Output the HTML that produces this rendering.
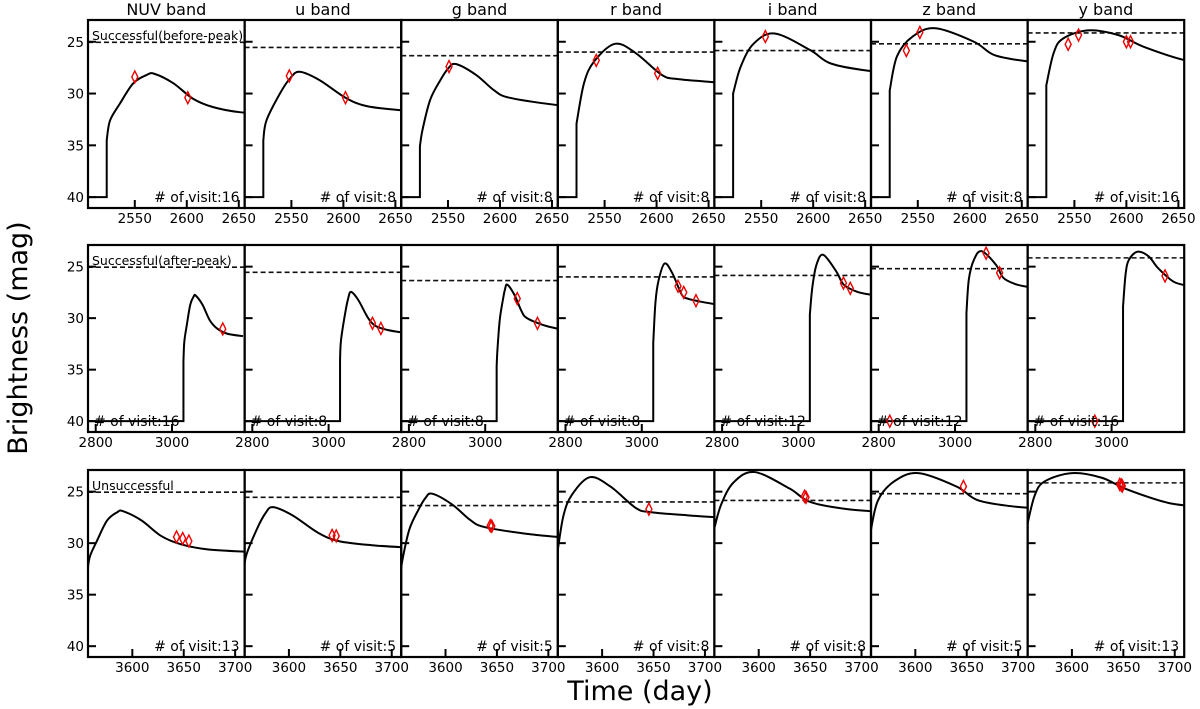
<!DOCTYPE html>
<html>
<head>
<meta charset="utf-8">
<style>
  html,body{margin:0;padding:0;background:#fff;}
  svg{display:block;font-family:"DejaVu Sans","Liberation Sans",sans-serif;}
</style>
</head>
<body>
<svg id="chart" width="1200" height="709" viewBox="0 0 1200 709" xmlns="http://www.w3.org/2000/svg">
  <text x="640" y="700" font-size="27" text-anchor="middle">Time (day)</text>
  <text transform="translate(27,338) rotate(-90)" font-size="27" text-anchor="middle">Brightness (mag)</text>
</svg>
<script>
// ---- data ----
const bands = ["NUV", "u", "g", "r", "i", "z", "y"];
const rowLabels = ["Successful(before-peak)", "Successful(after-peak)", "Unsuccessful"];
const limitMag = [25.05, 25.55, 26.35, 26.0, 25.85, 25.2, 24.15];
const explosionDay = [2523, 3030, 3556];
const xDomains = [[2505, 2655.6], [2779.8, 3190.3], [3556.9, 3709.2]];
const xTicks = [[2550, 2600, 2650], [2800, 3000], [3600, 3650, 3700]];
const yTicks = [25, 30, 35, 40];
const yDomain = [22.9, 41.05];
const faintMag = 40;
// template light curves: days since explosion, mag below peak
const tmplT = [
  [0, 3.2, 12.8, 25.6, 38.5, 46, 64, 83, 102, 128, 170],
  [0, 3, 16, 26, 35, 54, 79, 99, 131, 170],
  [0, 2.5, 9.9, 19.7, 27, 34.5, 54, 71.5, 86, 131, 170],
  [0, 7.2, 17, 37, 57, 82, 97, 132, 170],
  [0, 7.3, 19.6, 40, 74, 94, 130, 170],
  [0, 7, 22, 44, 81, 101, 133, 170],
  [0, 7, 16, 40, 69, 94, 134, 170]
];
const tmplDelta = [
  [6.4, 4.5, 2.85, 0.9, 0.1, 0, 0.9, 2.4, 3.2, 3.7, 3.95],
  [6.6, 4.7, 2.1, 0.6, 0, 0.8, 2.5, 3.3, 3.7, 3.95],
  [7.95, 6.35, 3.45, 1.55, 0.45, 0, 1.05, 2.55, 3.25, 3.95, 4.3],
  [7.7, 3.8, 1.7, 0, 0.9, 3.0, 3.4, 3.7, 3.95],
  [5.8, 3.2, 1.0, 0, 1.6, 2.9, 3.6, 3.9],
  [6.0, 2.7, 0.8, 0, 1.3, 2.6, 3.2, 3.5],
  [5.3, 2.2, 0.8, 0, 0.45, 1.6, 2.9, 3.3]
];
const peakMag = [
  [28.1, 27.9, 27.15, 25.2, 24.2, 23.7, 23.9],
  [27.8, 27.45, 26.75, 24.7, 23.85, 23.5, 23.55],
  [26.9, 26.5, 25.2, 23.6, 23.1, 23.2, 23.2]
];
const peakDay = [
  [2569, 2558, 2557.5, 2560, 2563, 2567, 2563],
  [3062, 3059, 3058, 3059.5, 3065, 3070, 3068],
  [3591, 3584.5, 3587, 3588, 3596, 3603, 3600]
];
const obsDay = [
  [[2550, 2601], [2548, 2602], [2551], [2542, 2601], [2554], [2539, 2552], [2544, 2554, 2600, 2604]],
  [[3133], [3115, 3137], [3084, 3137], [3095, 3110, 3142], [3118, 3136], [2829, 3081.5, 3117], [2956, 3140]],
  [[3643, 3649, 3655], [3642, 3646], [3643.5, 3645], [3645.5], [3644.5, 3646], [3646.8], [3646.5, 3648, 3649]]
];
const obsMag = [
  [[28.4, 30.4], [28.3, 30.4], [27.4], [26.8, 28.05], [24.5], [25.85, 24.1], [25.25, 24.35, 25.0, 25.0]],
  [[31.05], [30.5, 31.0], [28.1, 30.5], [26.9, 27.5, 28.3], [26.6, 27.1], [40.0, 23.7, 25.6], [40.0, 25.9]],
  [[29.4, 29.55, 29.8], [29.25, 29.3], [28.3, 28.35], [26.7], [25.45, 25.55], [24.5], [24.3, 24.35, 24.45]]
];
const visits = [
  [16, 8, 8, 8, 8, 8, 16],
  [16, 8, 8, 8, 12, 12, 16],
  [13, 5, 5, 8, 8, 5, 13]
];

// ---- layout ----
const colLeft = [88, 244.6, 401.2, 557.8, 714.4, 871, 1027.6];
const colW = 156.6;
const rowTop = [20, 245, 470];
const rowBot = [208, 432, 657];
const NS = "http://www.w3.org/2000/svg";
const svg = document.getElementById("chart");

function mk(tag, attrs, parent) {
  const e = document.createElementNS(NS, tag);
  for (const k in attrs) e.setAttribute(k, attrs[k]);
  (parent || svg).appendChild(e);
  return e;
}

function catmull(pts) {
  let d = "";
  for (let i = 0; i < pts.length - 1; i++) {
    const p0 = pts[i - 1] || pts[i], p1 = pts[i], p2 = pts[i + 1], p3 = pts[i + 2] || p2;
    const c1x = p1[0] + (p2[0] - p0[0]) / 6, c1y = p1[1] + (p2[1] - p0[1]) / 6;
    const c2x = p2[0] - (p3[0] - p1[0]) / 6, c2y = p2[1] - (p3[1] - p1[1]) / 6;
    d += " C" + c1x.toFixed(2) + "," + c1y.toFixed(2) + " " + c2x.toFixed(2) + "," + c2y.toFixed(2) + " " + p2[0].toFixed(2) + "," + p2[1].toFixed(2);
  }
  return d;
}

const defs = mk("defs", {});

for (let r = 0; r < 3; r++) {
  for (let b = 0; b < 7; b++) {
    const L = colLeft[b], R = L + colW, T = rowTop[r], B = rowBot[r];
    const xs = v => L + (v - xDomains[r][0]) / (xDomains[r][1] - xDomains[r][0]) * colW;
    const ys = v => T + (v - yDomain[0]) / (yDomain[1] - yDomain[0]) * (B - T);
    const g = mk("g", {});
    
    
    const cid = "clip" + r + "_" + b;
    const cp = mk("clipPath", { id: cid }, defs);
    mk("rect", { x: L, y: T, width: colW, height: B - T }, cp);
    const inner = mk("g", { "clip-path": "url(#" + cid + ")" }, g);

    const lim = mk("line", { x1: L, x2: R, y1: ys(limitMag[b]), y2: ys(limitMag[b]), stroke: "#111", "stroke-width": 1.6, "stroke-dasharray": "5,3" }, inner);
    
    

    const ex = explosionDay[r];
    const tt = tmplT[b], dd = tmplDelta[b];
    let tp = tt[dd.indexOf(0)];
    const pts = tt.map((t, i) => {
      const day = t <= tp ? ex + t * (peakDay[r][b] - ex) / tp : peakDay[r][b] + (t - tp);
      return [xs(day), ys(peakMag[r][b] + dd[i])];
    });
    let d = "M" + (L - 5) + "," + ys(faintMag) + " L" + xs(ex) + "," + ys(faintMag) + " L" + pts[0][0] + "," + pts[0][1] + catmull(pts);
    const curve = mk("path", { d: d, fill: "none", stroke: "#000", "stroke-width": 2 }, inner);
    
    

    obsDay[r][b].forEach((od, i) => {
      const cx = xs(od), cy = ys(obsMag[r][b][i]);
      const p = mk("polygon", { points: cx + "," + (cy - 6) + " " + (cx + 3) + "," + cy + " " + cx + "," + (cy + 6) + " " + (cx - 3) + "," + cy, fill: "none", stroke: "#e00", "stroke-width": 1.4 }, g);
      
      
    });

    yTicks.forEach(v => {
      mk("line", { x1: L, x2: L + 8, y1: ys(v), y2: ys(v), stroke: "#000", "stroke-width": 2 }, g);
      if (b === 0) {
        const tl = mk("text", { x: L - 4, y: ys(v) + 5, "font-size": 13.5, "text-anchor": "end" }, g);
        tl.textContent = v;
        
        
      }
    });
    xTicks[r].forEach(v => {
      const x = xs(v);
      mk("line", { x1: x, x2: x, y1: B, y2: B - 8, stroke: "#000", "stroke-width": 2 }, g);
      const tl = mk("text", { x: x, y: B + 15, "font-size": 13.5, "text-anchor": "middle" }, g);
      tl.textContent = v;
      
      
    });

    const fr = mk("rect", { x: L, y: T, width: colW, height: B - T, fill: "none", stroke: "#000", "stroke-width": 2.2 }, g);
    
    

    const vl = mk("text", { "font-size": 14 }, g);
    if (r === 1) { vl.setAttribute("x", L + 6); vl.setAttribute("text-anchor", "start"); }
    else { vl.setAttribute("x", R - 5); vl.setAttribute("text-anchor", "end"); }
    vl.setAttribute("y", B - 6);
    vl.textContent = "# of visit:" + visits[r][b];
    
    

    if (b === 0) {
      const rl = mk("text", { x: L + 4, y: T + 20, "font-size": 12.5 }, g);
      rl.textContent = rowLabels[r];
      
      
    }
    if (r === 0) {
      const bt = mk("text", { x: L + colW / 2, y: T - 5, "font-size": 16, "text-anchor": "middle" }, g);
      bt.textContent = bands[b] + " band";
      
      
    }
  }
}
</script>
</body>
</html>
